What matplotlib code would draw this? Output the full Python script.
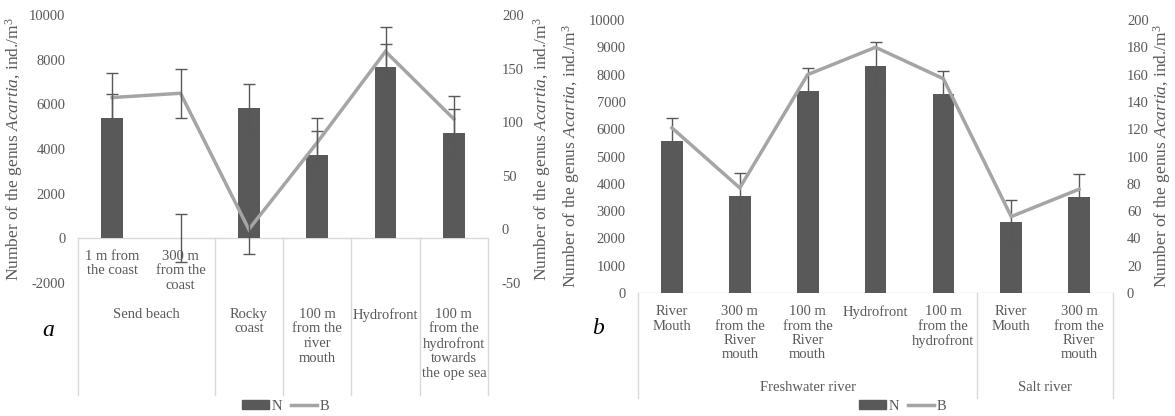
import matplotlib.pyplot as plt
import matplotlib.transforms as mtransforms
from matplotlib.patches import Patch
from matplotlib.lines import Line2D

plt.rcParams['font.family'] = ['Liberation Serif', 'DejaVu Serif']
plt.rcParams['mathtext.fontset'] = 'custom'
plt.rcParams['mathtext.rm'] = 'Liberation Serif'
plt.rcParams['mathtext.it'] = 'Liberation Serif:italic'
plt.rcParams['axes.unicode_minus'] = False

BAR_COLOR = '#595959'
LINE_COLOR = '#a5a5a5'
ERR_COLOR = '#585858'
TEXT_COLOR = '#595959'
GRID_COLOR = '#d9d9d9'
W, H = 1175, 416

# ---- panel a data ----
cats_a = ["1 m from\nthe coast", "300 m\nfrom the\ncoast", "Rocky\ncoast",
          "100 m\nfrom the\nriver\nmouth", "Hydrofront",
          "100 m\nfrom the\nhydrofront\ntowards\nthe ope sea"]
n_a = [5400, 0, 5850, 3750, 7650, 4700]
n_err_a = [1050, 1070, 1070, 1070, 1030, 1100]
b_a = [123, 127, 0, 81, 166, 103]
b_err_a = [23, 23, 23, 23, 23, 21]

# ---- panel b data ----
cats_b = ["River\nMouth", "300 m\nfrom the\nRiver\nmouth", "100 m\nfrom the\nRiver\nmouth",
          "Hydrofront", "100 m\nfrom the\nhydrofront", "River\nMouth",
          "300 m\nfrom the\nRiver\nmouth"]
groups_b = ["Freshwater river", "Salt river"]
n_b = [5550, 3550, 7400, 8300, 7300, 2600, 3500]
n_err_b = [850, 850, 850, 880, 850, 800, 870]
b_b = [121, 77, 160, 180, 157, 56, 76]

YLABEL = r"Number of the genus $\mathit{Acartia}$, ind./m$^3$"


def fy(py):
    return 1 - py / H


def px_box(l, t, r, b):
    return [l / W, fy(b), (r - l) / W, (b - t) / H]


fig = plt.figure(figsize=(W / 100, H / 100), dpi=100)


def style_axis(ax, side, pad):
    for s in ax.spines.values():
        s.set_visible(False)
    ax.tick_params(axis='y', length=0, pad=pad, labelsize=10.5, colors=TEXT_COLOR)
    ax.tick_params(axis='x', length=0, labelbottom=False)
    if side == 'right':
        ax.yaxis.tick_right()


def draw_panel(box, cats, n, n_err, b, b_err, ylim_l, yticks_l, ylim_r, yticks_r,
               lpad_l, lpad_r):
    ax = fig.add_axes(box)
    x = list(range(len(cats)))
    ax.bar(x, n, width=0.32, color=BAR_COLOR, zorder=2)
    ax.errorbar(x, n, yerr=n_err, fmt='none', ecolor=ERR_COLOR, elinewidth=1,
                capsize=4, capthick=1, zorder=3)
    ax.set_xlim(-0.5, len(cats) - 0.5)
    ax.set_ylim(*ylim_l)
    ax.set_yticks(yticks_l)
    ax.axhline(0, color=GRID_COLOR, lw=1, zorder=1)
    style_axis(ax, 'left', 9)
    ax.set_ylabel(YLABEL, fontsize=12.5, color=TEXT_COLOR, labelpad=lpad_l)

    ax2 = ax.twinx()
    ax2.plot(x, b, color=LINE_COLOR, lw=2.5, zorder=4, solid_joinstyle='miter')
    if b_err is not None:
        ax2.errorbar(x, b, yerr=b_err, fmt='none', ecolor=ERR_COLOR, elinewidth=1,
                     capsize=4, capthick=1, zorder=5)
    ax2.set_ylim(*ylim_r)
    ax2.set_yticks(yticks_r)
    style_axis(ax2, 'right', 10)
    ax2.set_ylabel(YLABEL, fontsize=12.5, color=TEXT_COLOR, labelpad=lpad_r)
    return ax, ax2


# panel a
ax_a, ax_a2 = draw_panel(px_box(78, 15, 488, 283), cats_a, n_a, n_err_a, b_a, b_err_a,
                         (-2000, 10000), range(-2000, 10001, 2000),
                         (-50, 200), range(-50, 201, 50), 3, 5)
tr_a = mtransforms.blended_transform_factory(ax_a.transData, fig.transFigure)
for xv in [-0.5, 1.5, 2.5, 3.5, 4.5, 5.5]:
    ax_a.plot([xv, xv], [fy(238), fy(395)], color=GRID_COLOR, lw=1, transform=tr_a, clip_on=False)
lab_kw = dict(ha='center', va='top', fontsize=10.5, color=TEXT_COLOR, linespacing=1.15)
for i in range(2):
    ax_a.text(i, fy(250), cats_a[i], transform=tr_a, **lab_kw)
ax_a.text(0.5, fy(308), "Send beach", transform=tr_a, **lab_kw)
for i in range(2, len(cats_a)):
    ax_a.text(i, fy(308), cats_a[i], transform=tr_a, **lab_kw)
fig.text(48 / W, fy(330), "a", fontsize=17, style='italic', ha='center', va='center')

# panel b
ax_b, ax_b2 = draw_panel(px_box(638, 20, 1113, 293), cats_b, n_b, n_err_b, b_b, None,
                         (0, 10000), range(0, 10001, 1000),
                         (0, 200), range(0, 201, 20), 5, 2)
tr_b = mtransforms.blended_transform_factory(ax_b.transData, fig.transFigure)
for xv in [-0.5, 4.5, 6.5]:
    ax_b.plot([xv, xv], [fy(293), fy(398)], color=GRID_COLOR, lw=1, transform=tr_b, clip_on=False)
for i in range(len(cats_b)):
    ax_b.text(i, fy(305), cats_b[i], transform=tr_b, **lab_kw)
ax_b.text(2, fy(381), groups_b[0], transform=tr_b, **lab_kw)
ax_b.text(5.5, fy(381), groups_b[1], transform=tr_b, **lab_kw)
fig.text(598 / W, fy(328), "b", fontsize=17, style='italic', ha='center', va='center')

# legends
handles = [Patch(color=BAR_COLOR), Line2D([], [], color=LINE_COLOR, lw=2.5)]
for cx in [286, 903]:
    fig.legend(handles, ['N', 'B'], loc='center', bbox_to_anchor=(cx / W, fy(406)),
               ncol=2, frameon=False, fontsize=10.5, handlelength=1.8, handleheight=0.6,
               handletextpad=0.2, columnspacing=0.6, labelcolor=TEXT_COLOR)

fig.savefig('out.png', dpi=100)
